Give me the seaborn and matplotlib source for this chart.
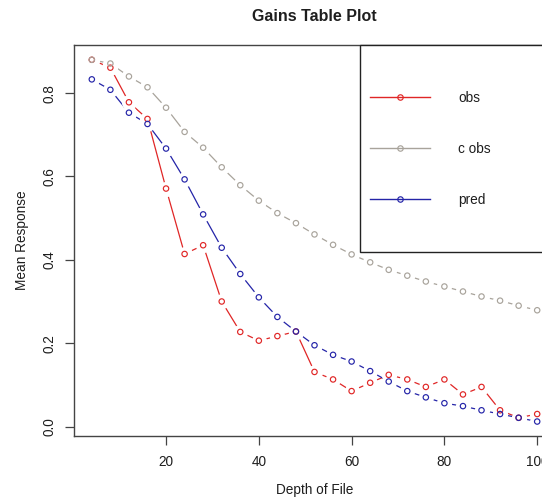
import numpy as np
import pandas as pd
import matplotlib
matplotlib.use("Agg")
import matplotlib.pyplot as plt
from matplotlib.lines import Line2D
from matplotlib.patches import Rectangle
import seaborn as sns

# Depth of file (percent) and the three response series
depth = [4, 8, 12, 16, 20, 24, 28, 32, 36, 40, 44, 48, 52,
         56, 60, 64, 68, 72, 76, 80, 84, 88, 92, 96, 100]
obs = [0.880, 0.861, 0.778, 0.738, 0.571, 0.414, 0.435, 0.300, 0.227,
       0.206, 0.217, 0.228, 0.131, 0.113, 0.085, 0.105, 0.124, 0.113,
       0.095, 0.113, 0.077, 0.095, 0.039, 0.021, 0.030]
c_obs = [0.880, 0.871, 0.840, 0.814, 0.765, 0.707, 0.669, 0.622, 0.579,
         0.542, 0.512, 0.488, 0.461, 0.436, 0.413, 0.394, 0.376, 0.362,
         0.348, 0.336, 0.324, 0.312, 0.302, 0.290, 0.279]
pred = [0.833, 0.808, 0.753, 0.726, 0.667, 0.593, 0.509, 0.429, 0.366,
        0.310, 0.263, 0.228, 0.195, 0.172, 0.156, 0.133, 0.108, 0.085,
        0.070, 0.056, 0.049, 0.039, 0.030, 0.021, 0.012]

series_names = ["obs", "c obs", "pred"]
series_colors = ["#e02626", "#a8a39b", "#2424a8"]

x_ticks = [20, 40, 60, 80, 100]
y_ticks = [0.0, 0.2, 0.4, 0.6, 0.8]

plt.rcParams["font.family"] = ["Liberation Sans", "DejaVu Sans"]
text_col = "#1e1e1e"
fs = 9.8

fig = plt.figure(figsize=(5.42, 4.98), dpi=100)
W, H = 542, 498
ax_l, ax_r, ax_t, ax_b = 74, 555, 45.3, 436
ax = fig.add_axes([ax_l / W, 1 - ax_b / H, (ax_r - ax_l) / W, (ax_b - ax_t) / H])

df = pd.DataFrame({"depth": depth, "obs": obs, "c obs": c_obs, "pred": pred})

# each line is broken around its points: line, then a white disc over every point
for name, col in zip(series_names, series_colors):
    sns.lineplot(data=df, x="depth", y=name, ax=ax, color=col, linewidth=0.9,
                 zorder=2)
    ax.plot(df["depth"], df[name], linestyle="none", marker="o",
            markersize=11, markerfacecolor="white", markeredgecolor="white",
            markeredgewidth=0, zorder=3)
# open circle markers on top
for name, col in zip(series_names, series_colors):
    sns.scatterplot(data=df, x="depth", y=name, ax=ax, s=15, marker="o",
                    facecolors="none", edgecolor=col, linewidth=0.85, zorder=4)

# axis ranges with 4% padding on both sides
xmin, xmax = min(depth), max(depth)
ymin = min(min(obs), min(c_obs), min(pred))
ymax = max(max(obs), max(c_obs), max(pred))
px, py = 0.04 * (xmax - xmin), 0.04 * (ymax - ymin)
ax.set_xlim(xmin - px, xmax + px)
ax.set_ylim(ymin - py, ymax + py)

ax.set_xticks(x_ticks)
ax.set_xticklabels([str(t) for t in x_ticks])
ax.set_yticks(y_ticks)
ax.set_yticklabels([f"{t:.1f}" for t in y_ticks], rotation=90, va="center")
ax.tick_params(axis="both", direction="out", length=6.5, width=0.9,
               color="#444444", labelsize=fs, labelcolor=text_col)
ax.tick_params(axis="x", pad=7.0)
ax.tick_params(axis="y", pad=6.0)

for sp in ax.spines.values():
    sp.set_color("#444444")
    sp.set_linewidth(1.0)

ax.set_xlabel("Depth of File", fontsize=fs, color=text_col)
ax.set_ylabel("Mean Response", fontsize=fs, color=text_col)
ax.xaxis.set_label_coords(0.5, -0.12)
ax.yaxis.set_label_coords(-(ax_l - 29) / (ax_r - ax_l), 0.5)
ax.set_title("Gains Table Plot", fontsize=11.5, fontweight="bold",
             color=text_col, pad=17.5)

# legend box
box_x0 = (360.3 - ax_l) / (ax_r - ax_l)
box_y0 = (ax_b - 251.7) / (ax_b - ax_t)
ax.add_patch(Rectangle((box_x0, box_y0), 1.2, 1.0 - box_y0, transform=ax.transAxes,
                       facecolor="white", edgecolor="#222222", linewidth=1.0,
                       zorder=5, clip_on=False))
handles = [Line2D([], [], color=c, linewidth=1.0, marker="o", markersize=3.9,
                  markerfacecolor="none", markeredgecolor=c, markeredgewidth=0.85)
           for c in series_colors]
leg = ax.legend(handles, series_names, loc="center left",
                bbox_to_anchor=((370 - ax_l) / (ax_r - ax_l),
                                (ax_b - 149) / (ax_b - ax_t)),
                frameon=False, fontsize=fs, borderpad=0, borderaxespad=0,
                handlelength=4.4, handletextpad=2.1, labelspacing=2.7,
                labelcolor=text_col)
leg.set_zorder(6)

fig.savefig("out.png", dpi=100, facecolor="white")
